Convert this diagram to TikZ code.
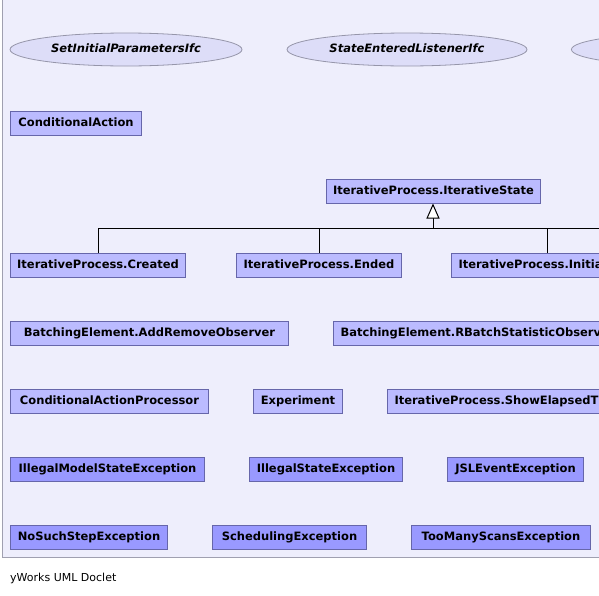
\documentclass[tikz,border=0pt]{standalone}
\usepackage{fontspec}
\setmainfont{DejaVu Sans}
\usetikzlibrary{arrows.meta,shapes.geometric}
\definecolor{panelbg}{RGB}{238,238,252}
\definecolor{panelline}{RGB}{160,160,176}
\definecolor{clsfill}{RGB}{187,187,255}
\definecolor{excfill}{RGB}{153,153,255}
\definecolor{boxline}{RGB}{102,102,170}
\definecolor{ifcfill}{RGB}{221,221,248}
\definecolor{ifcline}{RGB}{150,150,170}
\tikzset{
  cls/.style={draw=boxline, fill=clsfill, line width=1pt, anchor=west, minimum height=24pt,
    inner sep=0pt, font=\fontsize{11.5}{13}\selectfont\bfseries, text height=8.6pt, text depth=2.4pt},
  exc/.style={cls, fill=excfill},
  ifc/.style={ellipse, draw=ifcline, fill=ifcfill, line width=0.8pt, minimum height=33pt, inner sep=0pt,
    font=\fontsize{11.5}{13}\selectfont\bfseries\itshape, text height=8.6pt, text depth=2.4pt},
  gen/.style={draw=black, line width=1pt},
  genarrow/.style={gen, -{Triangle[length=15pt, width=13pt, fill=white]}}
}
\begin{document}
\begin{tikzpicture}[x=1pt, y=-1pt]
\useasboundingbox (0,0) rectangle (599,595);
\clip (0,0) rectangle (599,595);
\fill[white] (0,0) rectangle (599,595);
\draw[panelline, fill=panelbg, line width=1pt] (2.5,-5) rectangle (640,557);
% interfaces
\node[ifc, minimum width=232pt] (e1) at (126,49.5) {SetInitialParametersIfc};
\node[ifc, minimum width=240pt] (e2) at (407,49.5) {StateEnteredListenerIfc};
\node[ifc, minimum width=240pt, anchor=west] (e3) at (571,49.5) {};
% classes
\node[cls, minimum width=131pt] (ca) at (10,123) {ConditionalAction};
\node[cls, minimum width=214pt] (state) at (326,191) {IterativeProcess.IterativeState};
\node[cls, minimum width=175pt] (created) at (10,265) {IterativeProcess.Created};
\node[cls, minimum width=165pt] (ended) at (236,265) {IterativeProcess.Ended};
\node[cls, minimum width=200pt, align=left, text width=186pt, inner xsep=7pt] (init) at (451,265) {IterativeProcess.Initialized};
\node[cls, minimum width=278pt] (bear) at (10,333) {BatchingElement.AddRemoveObserver};
\node[cls, minimum width=300pt, align=left, text width=286pt, inner xsep=7pt] (bers) at (333,333) {BatchingElement.RBatchStatisticObserver};
\node[cls, minimum width=198pt] (cap) at (10,401) {ConditionalActionProcessor};
\node[cls, minimum width=89pt] (exp) at (253,401) {Experiment};
\node[cls, minimum width=260pt, align=left, text width=246pt, inner xsep=7pt] (ipset) at (387,401) {IterativeProcess.ShowElapsedTime};
% exceptions
\node[exc, minimum width=194pt] (imse) at (10,469) {IllegalModelStateException};
\node[exc, minimum width=153pt] (ise) at (249,469) {IllegalStateException};
\node[exc, minimum width=136pt] (jsle) at (447,469) {JSLEventException};
\node[exc, minimum width=157pt] (nsse) at (10,537.5) {NoSuchStepException};
\node[exc, minimum width=154pt] (se) at (212,537.5) {SchedulingException};
\node[exc, minimum width=179pt] (tmse) at (411,537.5) {TooManyScansException};
% generalization
\coordinate (junc) at (433,228);
\coordinate (offright) at (620,228);
\draw[gen] (created.north -| 98,0) |- (junc);
\draw[gen] (ended.north -| 319,0) |- (junc);
\draw[gen] (init.north -| 547,0) |- (junc);
\draw[gen] (junc) -- (offright);
\draw[genarrow] (junc) -- (state.south -| junc);
% footer
\node[anchor=west, inner sep=0pt, font=\fontsize{11}{13}\selectfont] (footer) at (10,578) {yWorks UML Doclet};
\end{tikzpicture}
\end{document}
